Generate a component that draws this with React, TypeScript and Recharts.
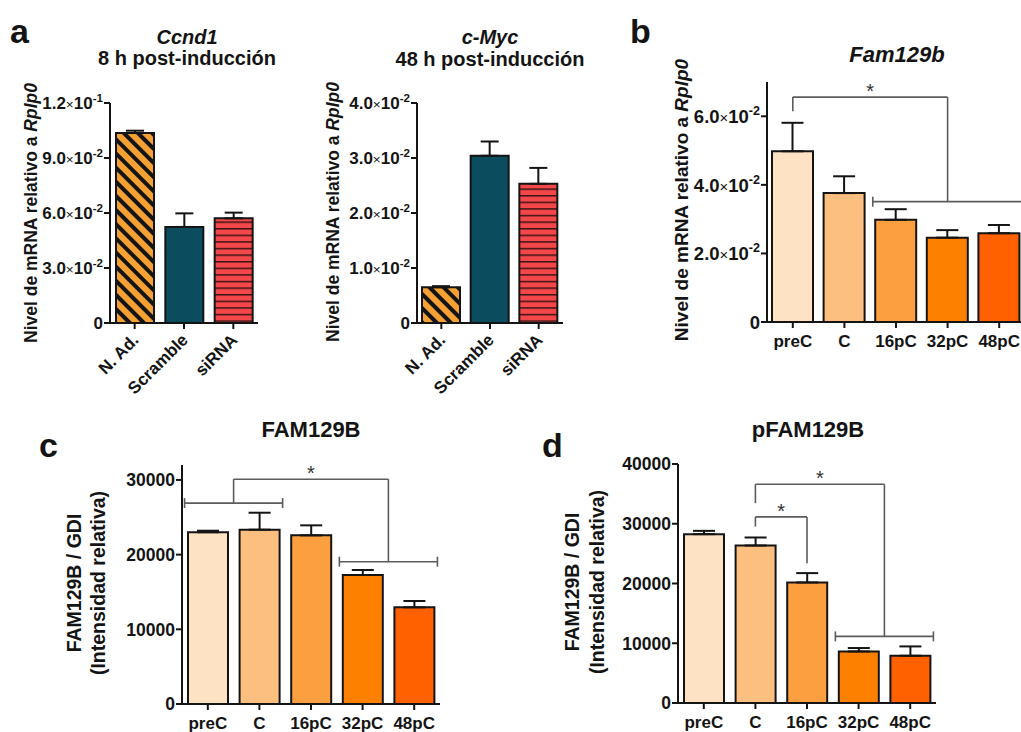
import type { ReactElement, ReactNode } from 'react';
import { Bar, BarChart, Cell, ErrorBar, ReferenceDot, ReferenceLine, XAxis, YAxis } from 'recharts';

const FONT = '"Liberation Sans", Arial, Helvetica, sans-serif';
const INK = '#141414';
const BRACKET_INK = '#5c5c5c';

// a: Ccnd1 (8 h) and c-Myc (48 h) after knockdown
const knockdownGroups = ['N. Ad.', 'Scramble', 'siRNA'];
const ccnd1Mean = [0.1036, 0.0524, 0.0571];
const ccnd1Sem = [0.0013, 0.0074, 0.0031];
const ccnd1Ticks = [0, 0.03, 0.06, 0.09, 0.12];
const cmycMean = [0.0065, 0.0304, 0.0253];
const cmycSem = [0.0002, 0.0026, 0.0029];
const cmycTicks = [0, 0.01, 0.02, 0.03, 0.04];

// b-d: differentiation stages
const stages = ['preC', 'C', '16pC', '32pC', '48pC'];
const fam129bMrnaMean = [0.0498, 0.0376, 0.0298, 0.0246, 0.0259];
const fam129bMrnaSem = [0.0083, 0.0049, 0.0031, 0.0022, 0.0024];
const fam129bMrnaTicks = [0, 0.02, 0.04, 0.06];
const fam129bProtMean = [23000, 23340, 22580, 17270, 12940];
const fam129bProtSem = [200, 2270, 1340, 670, 850];
const fam129bProtTicks = [0, 10000, 20000, 30000];
const pfam129bMean = [28260, 26360, 20170, 8630, 7910];
const pfam129bSem = [550, 1340, 1570, 570, 1560];
const pfam129bTicks = [0, 10000, 20000, 30000, 40000];

interface Bracket {
  from: string[];
  fromY: number;
  to: string[];
  toY: number;
  topY: number;
}

const fam129bMrnaSig: Bracket[] = [
  { from: ['preC'], fromY: 0.0615, to: ['16pC', '32pC', '48pC'], toY: 0.0351, topY: 0.0656 },
];
const fam129bProtSig: Bracket[] = [
  { from: ['preC', 'C'], fromY: 26900, to: ['32pC', '48pC'], toY: 19050, topY: 30100 },
];
const pfam129bSig: Bracket[] = [
  { from: ['C'], fromY: 33440, to: ['32pC', '48pC'], toY: 11150, topY: 36600 },
  { from: ['C'], fromY: 29530, to: ['16pC'], toY: 23410, topY: 31150 },
];

const stageFills = ['#FDE2C4', '#FDBF80', '#FC9F40', '#FE8000', '#FF6100'];

type Seg = [{ x: number; y: number }, { x: number; y: number }];

function bracketParts(b: Bracket, cats: string[], capHalf: number) {
  const segs: Seg[] = [];
  const anchor = (group: string[], y: number) => {
    const idx = group.map((g) => cats.indexOf(g));
    const lo = Math.min(...idx);
    const hi = Math.max(...idx);
    if (idx.length === 1) return lo;
    const x0 = lo - 0.45;
    const x1 = hi + 0.45;
    segs.push([{ x: x0, y }, { x: x1, y }]);
    segs.push([{ x: x0, y: y - capHalf }, { x: x0, y: y + capHalf }]);
    segs.push([{ x: x1, y: y - capHalf }, { x: x1, y: y + capHalf }]);
    return (lo + hi) / 2;
  };
  const xa = anchor(b.from, b.fromY);
  const xb = anchor(b.to, b.toY);
  segs.push([{ x: xa, y: b.fromY }, { x: xa, y: b.topY }]);
  segs.push([{ x: xa, y: b.topY }, { x: xb, y: b.topY }]);
  segs.push([{ x: xb, y: b.topY }, { x: xb, y: b.toY }]);
  return { segs, star: { x: (xa + xb) / 2, y: b.topY } };
}

function SciTick({ x, y, payload, fontSize }: any) {
  const v = payload.value as number;
  const common = {
    x,
    y,
    dy: '0.36em',
    textAnchor: 'end' as const,
    fontFamily: FONT,
    fontWeight: 'bold',
    fontSize,
    fill: INK,
  };
  if (v === 0) return <text {...common}>0</text>;
  const exp = Math.floor(Math.log10(v) + 1e-9);
  const mant = (v / Math.pow(10, exp)).toFixed(1);
  return (
    <text {...common}>
      {mant}
      <tspan fontSize={fontSize * 0.8} fontWeight="normal">×</tspan>
      <tspan>10</tspan>
      <tspan fontSize={fontSize * 0.68} dy={-fontSize * 0.42}>{`-${-exp}`}</tspan>
    </text>
  );
}

function PlainTick({ x, y, payload }: any) {
  return (
    <text x={x} y={y} dy="0.36em" textAnchor="end" fontFamily={FONT} fontWeight="bold" fontSize={17.5} fill={INK}>
      {payload.value}
    </text>
  );
}

function StageTick({ x, y, payload }: any) {
  return (
    <text x={x} y={y} dy="0.72em" textAnchor="middle" fontFamily={FONT} fontWeight="bold" fontSize={17} fill={INK}>
      {payload.value}
    </text>
  );
}

function SlantTick({ x, y, payload }: any) {
  const ax = x + 5;
  const ay = y + 10;
  return (
    <text
      x={ax}
      y={ay}
      textAnchor="end"
      transform={`rotate(-45 ${ax} ${ay})`}
      fontFamily={FONT}
      fontWeight="bold"
      fontSize={17}
      fill={INK}
    >
      {payload.value}
    </text>
  );
}

function AxisTitle({ lines, xs, cy, fontSize, ox, oy }: any) {
  return (
    <g>
      {(lines as ReactNode[]).map((line, i) => (
        <text
          key={i}
          transform={`translate(${xs[i] - ox} ${cy - oy}) rotate(-90)`}
          textAnchor="middle"
          dy="0.36em"
          fontFamily={FONT}
          fontWeight="bold"
          fontSize={fontSize}
          fill={INK}
        >
          {line}
        </text>
      ))}
    </g>
  );
}

interface PanelProps {
  categories: string[];
  mean: number[];
  sem: number[];
  fills: string[];
  ticks: number[];
  yMax: number;
  plotX: number;
  plotY: number;
  plotW: number;
  plotH: number;
  yAxisW: number;
  xAxisH: number;
  xTickMargin: number;
  barSize: number;
  capWidth: number;
  yTick: (p: any) => ReactElement;
  xTick: (p: any) => ReactElement;
  title: { lines: ReactNode[]; xs: number[]; cy: number; fontSize: number };
  sig?: Bracket[];
  defs?: ReactElement;
}

function StatPanel(p: PanelProps) {
  const mt = 40;
  const mr = 6;
  const ox = p.plotX - p.yAxisW;
  const oy = p.plotY - mt;
  const rows = p.categories.map((name, i) => ({ name, idx: i, mean: p.mean[i], err: [0, p.sem[i]] }));
  const capHalf = (p.yMax * 5) / p.plotH;
  const parts = (p.sig ?? []).map((b) => bracketParts(b, p.categories, capHalf));

  return (
    <div style={{ position: 'absolute', left: ox, top: oy }}>
      <BarChart
        width={p.yAxisW + p.plotW + mr}
        height={mt + p.plotH + p.xAxisH}
        data={rows}
        margin={{ top: mt, right: mr, bottom: 0, left: 0 }}
      >
        {p.defs}
        <XAxis
          dataKey="name"
          interval={0}
          height={p.xAxisH}
          tick={p.xTick}
          tickSize={6}
          tickMargin={p.xTickMargin}
          axisLine={{ stroke: INK, strokeWidth: 2 }}
          tickLine={{ stroke: INK, strokeWidth: 2 }}
        />
        <XAxis xAxisId="pos" type="number" dataKey="idx" domain={[-0.5, p.categories.length - 0.5]} hide />
        <YAxis
          domain={[0, p.yMax]}
          ticks={p.ticks}
          interval={0}
          width={p.yAxisW}
          tick={p.yTick}
          tickSize={6}
          tickMargin={1}
          allowDataOverflow
          axisLine={{ stroke: INK, strokeWidth: 2 }}
          tickLine={{ stroke: INK, strokeWidth: 2 }}
          label={<AxisTitle {...p.title} ox={ox} oy={oy} />}
        />
        <Bar dataKey="mean" barSize={p.barSize} stroke={INK} strokeWidth={2} isAnimationActive={false}>
          {rows.map((r, i) => (
            <Cell key={r.name} fill={p.fills[i]} />
          ))}
          <ErrorBar dataKey="err" width={p.capWidth} stroke={INK} strokeWidth={2} direction="y" />
        </Bar>
        {parts.flatMap((part, bi) =>
          part.segs.map((seg, si) => (
            <ReferenceLine
              key={`b${bi}-${si}`}
              xAxisId="pos"
              segment={seg}
              stroke={BRACKET_INK}
              strokeWidth={1.6}
              ifOverflow="visible"
            />
          )),
        )}
        {parts.map((part, bi) => (
          <ReferenceDot
            key={`s${bi}`}
            xAxisId="pos"
            x={part.star.x}
            y={part.star.y}
            r={0}
            ifOverflow="visible"
            shape={(sp: any) => (
              <text x={sp.cx} y={sp.cy + 1} textAnchor="middle" fontFamily={FONT} fontSize={20} fill="#333">
                *
              </text>
            )}
          />
        ))}
      </BarChart>
    </div>
  );
}

function KnockdownDefs({ id }: { id: string }) {
  return (
    <defs>
      <pattern id={`${id}-diag`} patternUnits="userSpaceOnUse" width={10} height={10} patternTransform="rotate(45)">
        <rect width={10} height={10} fill="#F5A033" />
        <rect width={10} height={4} fill={INK} />
      </pattern>
      <pattern id={`${id}-horiz`} patternUnits="userSpaceOnUse" width={8} height={6.6}>
        <rect width={8} height={6.6} fill="#F4474A" />
        <rect width={8} height={1.5} fill="#3a1414" />
      </pattern>
    </defs>
  );
}

const knockdownFills = (id: string) => [`url(#${id}-diag) #F5A033`, '#0B4D5F', `url(#${id}-horiz) #F4474A`];

const rplp0Title = [
  <>
    Nivel de mRNA relativo a <tspan fontStyle="italic">Rplp0</tspan>
  </>,
];
const gdiTitle = ['FAM129B / GDI', '(Intensidad relativa)'];

export default function App() {
  const sciA = (props: any) => <SciTick {...props} fontSize={17} />;
  const sciB = (props: any) => <SciTick {...props} fontSize={18.5} />;
  return (
    <div
      style={{
        position: 'absolute',
        left: 0,
        top: 0,
        width: 1021,
        height: 732,
        overflow: 'hidden',
        background: '#fff',
        fontFamily: FONT,
      }}
    >
      <StatPanel
        categories={knockdownGroups}
        mean={ccnd1Mean}
        sem={ccnd1Sem}
        fills={knockdownFills('a1')}
        ticks={ccnd1Ticks}
        yMax={0.12}
        plotX={110}
        plotY={103}
        plotW={148}
        plotH={220}
        yAxisW={110}
        xAxisH={75}
        xTickMargin={2}
        barSize={38}
        capWidth={9}
        yTick={sciA}
        xTick={SlantTick}
        title={{ lines: rplp0Title, xs: [31], cy: 213, fontSize: 17.5 }}
        defs={<KnockdownDefs id="a1" />}
      />
      <StatPanel
        categories={knockdownGroups}
        mean={cmycMean}
        sem={cmycSem}
        fills={knockdownFills('a2')}
        ticks={cmycTicks}
        yMax={0.04}
        plotX={417}
        plotY={103}
        plotW={146}
        plotH={220}
        yAxisW={110}
        xAxisH={75}
        xTickMargin={2}
        barSize={38}
        capWidth={9}
        yTick={sciA}
        xTick={SlantTick}
        title={{ lines: rplp0Title, xs: [333], cy: 212, fontSize: 17.5 }}
        defs={<KnockdownDefs id="a2" />}
      />
      <StatPanel
        categories={stages}
        mean={fam129bMrnaMean}
        sem={fam129bMrnaSem}
        fills={stageFills}
        ticks={fam129bMrnaTicks}
        yMax={0.07}
        plotX={767}
        plotY={82}
        plotW={258}
        plotH={240}
        yAxisW={110}
        xAxisH={40}
        xTickMargin={7}
        barSize={41}
        capWidth={11}
        yTick={sciB}
        xTick={StageTick}
        title={{ lines: rplp0Title, xs: [681], cy: 200, fontSize: 19 }}
        sig={fam129bMrnaSig}
      />
      <StatPanel
        categories={stages}
        mean={fam129bProtMean}
        sem={fam129bProtSem}
        fills={stageFills}
        ticks={fam129bProtTicks}
        yMax={32000}
        plotX={182}
        plotY={465}
        plotW={258}
        plotH={239}
        yAxisW={140}
        xAxisH={40}
        xTickMargin={7}
        barSize={40}
        capWidth={11}
        yTick={PlainTick}
        xTick={StageTick}
        title={{ lines: gdiTitle, xs: [74, 98], cy: 583, fontSize: 19.5 }}
        sig={fam129bProtSig}
      />
      <StatPanel
        categories={stages}
        mean={pfam129bMean}
        sem={pfam129bSem}
        fills={stageFills}
        ticks={pfam129bTicks}
        yMax={40000}
        plotX={678}
        plotY={464}
        plotW={258}
        plotH={239}
        yAxisW={140}
        xAxisH={40}
        xTickMargin={7}
        barSize={40}
        capWidth={11}
        yTick={PlainTick}
        xTick={StageTick}
        title={{ lines: gdiTitle, xs: [572, 597], cy: 582, fontSize: 19.5 }}
        sig={pfam129bSig}
      />

      <svg width={1021} height={732} style={{ position: 'absolute', left: 0, top: 0, pointerEvents: 'none' }}>
        <g fontFamily={FONT} fontWeight="bold" fill={INK}>
          <text x={10} y={43} fontSize={34}>a</text>
          <text x={630} y={43} fontSize={34}>b</text>
          <text x={39} y={457} fontSize={34}>c</text>
          <text x={542} y={457} fontSize={34}>d</text>
          <text x={187} y={44} fontSize={20} fontStyle="italic" textAnchor="middle">Ccnd1</text>
          <text x={187} y={65} fontSize={20} textAnchor="middle">8 h post-inducción</text>
          <text x={490} y={44} fontSize={20} fontStyle="italic" textAnchor="middle">c-Myc</text>
          <text x={490} y={66} fontSize={20} textAnchor="middle">48 h post-inducción</text>
          <text x={897} y={62} fontSize={22} fontStyle="italic" textAnchor="middle">Fam129b</text>
          <text x={311} y={437} fontSize={22} textAnchor="middle">FAM129B</text>
          <text x={808} y={437} fontSize={22} textAnchor="middle">pFAM129B</text>
        </g>
      </svg>
    </div>
  );
}
